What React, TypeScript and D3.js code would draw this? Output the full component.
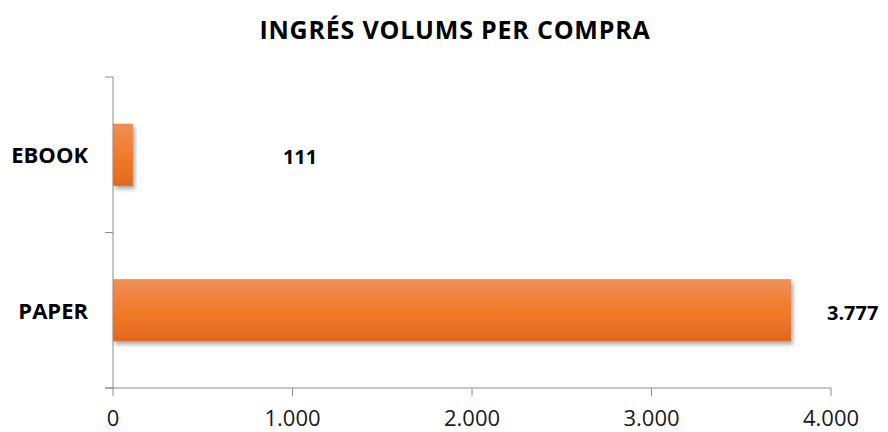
import * as d3 from "d3";
import { useEffect, useRef } from "react";

const categories = ["EBOOK", "PAPER"];
const values = [111, 3777];
const xTicks = [0, 1000, 2000, 3000, 4000];
const title = "INGRÉS VOLUMS PER COMPRA";

const width = 888;
const height = 432;
const margin = { top: 77, right: 57, bottom: 44, left: 113 };
const font = "'Open Sans', Carlito, Calibri, sans-serif";

const fmt = (v: number) => d3.format(",")(v).replace(/,/g, ".");

export default function App() {
  const svgRef = useRef<SVGSVGElement | null>(null);

  useEffect(() => {
    if (!svgRef.current) return;
    const svg = d3.select(svgRef.current);
    svg.selectAll("*").remove();

    const innerWidth = width - margin.left - margin.right;
    const innerHeight = height - margin.top - margin.bottom;

    const x = d3.scaleLinear().domain([0, 4000]).range([0, innerWidth]);
    const y = d3.scaleBand().domain(categories).range([0, innerHeight]).paddingInner(0.6).paddingOuter(0.3);
    const step = innerHeight / categories.length;

    const defs = svg.append("defs");
    const grad = defs
      .append("linearGradient")
      .attr("id", "barGrad")
      .attr("x1", 0)
      .attr("y1", 0)
      .attr("x2", 0)
      .attr("y2", 1);
    grad.append("stop").attr("offset", "0%").attr("stop-color", "#f08f58");
    grad.append("stop").attr("offset", "50%").attr("stop-color", "#f17b2b");
    grad.append("stop").attr("offset", "100%").attr("stop-color", "#e2681d");

    const shadow = defs.append("filter").attr("id", "shadow").attr("x", "-10%").attr("y", "-20%").attr("width", "130%").attr("height", "160%");
    shadow
      .append("feDropShadow")
      .attr("dx", 2)
      .attr("dy", 3)
      .attr("stdDeviation", 2)
      .attr("flood-color", "#000")
      .attr("flood-opacity", 0.35);

    svg
      .append("text")
      .attr("x", 455)
      .attr("y", 39)
      .attr("text-anchor", "middle")
      .attr("font-family", font)
      .attr("font-weight", "bold")
      .attr("font-size", 25)
      .attr("letter-spacing", 0.8)
      .attr("fill", "#000")
      .text(title);

    const chart = svg.append("g").attr("transform", `translate(${margin.left},${margin.top})`);

    chart
      .selectAll("rect.bar")
      .data(values)
      .join("rect")
      .attr("class", "bar")
      .attr("x", 0)
      .attr("y", (_d, i) => y(categories[i]) ?? 0)
      .attr("width", (d) => x(d))
      .attr("height", y.bandwidth())
      .attr("fill", "url(#barGrad)")
      .attr("filter", "url(#shadow)");

    // y axis line and ticks
    const axisColor = "#8c8c8c";
    chart.append("line").attr("x1", 0).attr("x2", 0).attr("y1", 0).attr("y2", innerHeight).attr("stroke", axisColor);
    chart
      .selectAll("line.ytick")
      .data(d3.range(categories.length + 1))
      .join("line")
      .attr("class", "ytick")
      .attr("x1", -8)
      .attr("x2", 0)
      .attr("y1", (i) => i * step)
      .attr("y2", (i) => i * step)
      .attr("stroke", axisColor);

    // x axis line and ticks
    chart.append("line").attr("x1", -8).attr("x2", innerWidth).attr("y1", innerHeight).attr("y2", innerHeight).attr("stroke", axisColor);
    chart
      .selectAll("line.xtick")
      .data(xTicks)
      .join("line")
      .attr("class", "xtick")
      .attr("x1", (d) => x(d))
      .attr("x2", (d) => x(d))
      .attr("y1", innerHeight)
      .attr("y2", innerHeight + 8)
      .attr("stroke", axisColor);

    chart
      .selectAll("text.xlabel")
      .data(xTicks)
      .join("text")
      .attr("class", "xlabel")
      .attr("x", (d) => x(d))
      .attr("y", innerHeight + 38)
      .attr("text-anchor", "middle")
      .attr("font-family", font)
      .attr("font-size", 22)
      .attr("fill", "#1a1a1a")
      .text((d) => fmt(d));

    chart
      .selectAll("text.ylabel")
      .data(categories)
      .join("text")
      .attr("class", "ylabel")
      .attr("x", -25)
      .attr("y", (d) => (y(d) ?? 0) + y.bandwidth() / 2)
      .attr("dy", "0.38em")
      .attr("text-anchor", "end")
      .attr("font-family", font)
      .attr("font-weight", "bold")
      .attr("font-size", 22)
      .attr("fill", "#000")
      .text((d) => d);

    // data labels (moved off the bars as in the original)
    const labelShift = [150, 36];
    chart
      .selectAll("text.vlabel")
      .data(values)
      .join("text")
      .attr("class", "vlabel")
      .attr("x", (d, i) => x(d) + labelShift[i])
      .attr("y", (_d, i) => (y(categories[i]) ?? 0) + y.bandwidth() / 2)
      .attr("dy", "0.47em")
      .attr("font-family", font)
      .attr("font-weight", "bold")
      .attr("font-size", 20)
      .attr("fill", "#000")
      .text((d) => fmt(d));
  }, []);

  return (
    <svg
      ref={svgRef}
      width={width}
      height={height}
      style={{ position: "absolute", left: 0, top: 0, background: "#fff" }}
    />
  );
}
